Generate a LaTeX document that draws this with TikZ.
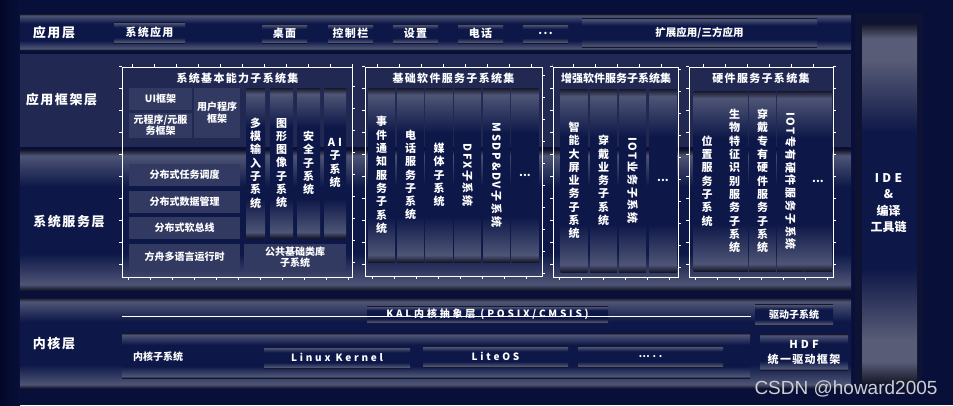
\documentclass[tikz,border=0pt]{standalone}
\usepackage{fontspec}
\setmainfont{Noto Sans CJK SC}
\newfontfamily\spacedfont{Noto Sans CJK SC}[LetterSpace=12]
\newfontfamily\widefont{Noto Sans CJK SC}[LetterSpace=28]
\newfontfamily\turnfont{Noto Sans CJK SC}[LetterSpace=16]
\newfontfamily\markfont{Liberation Sans}
\usetikzlibrary{positioning}

\definecolor{bgnavy}{RGB}{8,16,58}
\definecolor{edgenavy}{RGB}{3,8,40}
\definecolor{bandflat}{RGB}{33,41,83}
\definecolor{barlite}{RGB}{78,85,118}
\definecolor{barmid}{RGB}{14,24,72}
\definecolor{baredge}{RGB}{22,24,42}
\definecolor{flatblue}{RGB}{50,58,98}
\definecolor{idecol}{RGB}{14,19,52}
\definecolor{idegray}{RGB}{88,92,118}
\definecolor{markgray}{RGB}{205,205,210}

\pgfdeclareverticalshading{barshade}{100bp}{color(0bp)=(baredge); color(25bp)=(baredge); color(27bp)=(barlite); color(38bp)=(barmid); color(62bp)=(barmid); color(73bp)=(barlite); color(75bp)=(baredge); color(100bp)=(baredge)}
\pgfdeclareverticalshading{ideshade}{100bp}{color(0bp)=(baredge); color(25bp)=(baredge); color(28bp)=(idegray); color(31bp)=(idegray); color(41bp)=(barmid); color(60bp)=(barmid); color(70bp)=(idegray); color(73bp)=(idegray); color(75bp)=(baredge); color(100bp)=(baredge)}

\tikzset{
	layertext/.style = {text = white, font = \spacedfont\bfseries\fontsize{13}{15}\selectfont},
	titletext/.style = {text = white, font = \spacedfont\bfseries\fontsize{11}{13}\selectfont},
	barbox/.style = {shade, shading = barshade, text = white, inner sep = 0pt, align = center},
	appbox/.style = {barbox, font = \spacedfont\bfseries\fontsize{11}{13}\selectfont, minimum height = 19pt, minimum width = 45pt},
	flatbox/.style = {fill = flatblue, text = white, inner sep = 0pt, align = center, font = \bfseries\fontsize{10}{11}\selectfont},
	colbox/.style = {barbox, minimum width = 27pt, font = \bfseries\fontsize{11}{13.3}\selectfont},
	turntext/.style = {text = white, rotate = -90, font = \turnfont\bfseries\fontsize{11}{13}\selectfont},
	kernbox/.style = {barbox, minimum width = 145pt, minimum height = 21pt, font = \widefont\bfseries\fontsize{10}{12}\selectfont},
	framebox/.style = {draw = white, line width = 1pt},
	frameticks/.style = {draw = white, line width = 3pt, dash pattern = on 1pt off 21pt},
}

\begin{document}
\begin{tikzpicture}[x = 1pt, y = -1pt]
	\useasboundingbox (0, 0) rectangle (953, 405);
	\fill[bgnavy] (0, 0) rectangle (953, 405);
	\shade[left color = edgenavy, right color = bgnavy] (0, 0) rectangle (20, 405);
	
	% layer bands
	\shade[shading = barshade] (20, 14) rectangle (851, 50);
	\fill[bandflat] (20, 54) rectangle (851, 147);
	\shade[shading = barshade] (20, 150) rectangle (851, 290);
	\shade[shading = barshade] (20, 298) rectangle (851, 388);
	
	% IDE column
	\fill[idecol] (855, 13) rectangle (922, 393);
	\shade[shading = ideshade] (862, 24) rectangle (917, 383);
	\node[text = white, align = center, font = \bfseries\fontsize{12}{16.3}\selectfont] (ide) at (888.5, 203) {{\widefont IDE}\\\&\\编译\\工具链};
	
	\node[layertext] (lapp) at (54, 32.5) {应用层};
	\node[layertext] (lfw) at (61.5, 100) {应用框架层};
	\node[layertext] (lsvc) at (69, 222) {系统服务层};
	\node[layertext] (lkern) at (54, 344) {内核层};
	
	% application layer
	\node[appbox, minimum width = 71pt, minimum height = 21pt] (sysapp) at (149.5, 32.5) {系统应用};
	\node[appbox] (desktop) at (284.5, 33.5) {桌面};
	\node[appbox] (ctrlbar) at (350.5, 33.5) {控制栏};
	\node[appbox] (setting) at (415.5, 33.5) {设置};
	\node[appbox] (phone) at (480.5, 33.5) {电话};
	\node[appbox] (moreapp) at (545.5, 33.5) {...};
	\node[appbox, minimum width = 235pt, minimum height = 29pt, font = \bfseries\fontsize{10.5}{12}\selectfont] (extapp) at (699.5, 32.5) {扩展应用/三方应用};
	
	% frames
	\draw[framebox] (122, 67) rectangle (352, 277);
	\draw[frameticks] (120.5, 65.5) rectangle (353.5, 278.5);
	\draw[framebox] (365, 67) rectangle (542, 276);
	\draw[frameticks] (363.5, 65.5) rectangle (543.5, 277.5);
	\draw[framebox] (553, 67) rectangle (678, 277);
	\draw[frameticks] (551.5, 65.5) rectangle (679.5, 278.5);
	\draw[framebox] (689, 67) rectangle (833, 277);
	\draw[frameticks] (687.5, 65.5) rectangle (834.5, 278.5);
	
	\node[titletext] (f1title) at (237.5, 78) {系统基本能力子系统集};
	\node[titletext] (f2title) at (453.5, 78) {基础软件服务子系统集};
	\node[titletext, font = \bfseries\fontsize{11}{13}\selectfont] (f3title) at (616, 78) {增强软件服务子系统集};
	\node[titletext] (f4title) at (761, 78) {硬件服务子系统集};
	
	% system basic capability set
	\node[flatbox, minimum width = 63pt, minimum height = 22pt] (uifw) at (160.5, 99) {UI框架};
	\node[flatbox, minimum width = 63pt, minimum height = 25pt] (metafw) at (160.5, 125.5) {元程序/元服\\务框架};
	\node[flatbox, minimum width = 46pt, minimum height = 50pt, font = \bfseries\fontsize{10}{12}\selectfont] (userfw) at (217, 113) {用户程序\\框架};
	\node[colbox, minimum width = 19pt, minimum height = 150pt] (mmi) at (255.5, 163) {多\\模\\输\\入\\子\\系\\统};
	\node[colbox, minimum width = 23pt, minimum height = 150pt] (graphic) at (281.5, 163) {图\\形\\图\\像\\子\\系\\统};
	\node[colbox, minimum width = 23pt, minimum height = 150pt] (security) at (308.5, 163) {安\\全\\子\\系\\统};
	\node[colbox, minimum width = 22pt, minimum height = 150pt] (aisub) at (335, 163) {{\widefont AI}\\子\\系\\统};
	\node[flatbox, minimum width = 111pt, minimum height = 22pt] (dsched) at (184.5, 175) {分布式任务调度};
	\node[flatbox, minimum width = 111pt, minimum height = 22pt] (ddata) at (184.5, 202) {分布式数据管理};
	\node[flatbox, minimum width = 111pt, minimum height = 22pt] (dbus) at (184.5, 228) {分布式软总线};
	\node[flatbox, minimum width = 111pt, minimum height = 27pt] (arkrt) at (184.5, 257) {方舟多语言运行时};
	\node[flatbox, minimum width = 102pt, minimum height = 27pt] (baselib) at (295, 257) {公共基础类库\\子系统};
	
	% basic software service set
	\node[colbox, minimum height = 174pt] (event) at (381.5, 175) {事\\件\\通\\知\\服\\务\\子\\系\\统};
	\node[colbox, minimum height = 174pt] (telsub) at (410.5, 175) {电\\话\\服\\务\\子\\系\\统};
	\node[colbox, minimum height = 174pt] (media) at (439, 175) {媒\\体\\子\\系\\统};
	\node[colbox, minimum height = 174pt] (dfxcol) at (467.5, 175) {};
	\node[turntext] (dfx) at (dfxcol) {DFX子系统};
	\node[colbox, minimum height = 174pt] (msdpcol) at (496.5, 175) {};
	\node[turntext] (msdp) at (msdpcol) {MSDP\&DV子系统};
	\node[colbox, minimum height = 174pt] (morebase) at (525, 175) {...};
	
	% enhanced software service set
	\node[colbox, minimum height = 183pt] (bigscreen) at (574, 180.5) {智\\能\\大\\屏\\业\\务\\子\\系\\统};
	\node[colbox, minimum height = 183pt] (wearable) at (603.5, 180.5) {穿\\戴\\业\\务\\子\\系\\统};
	\node[colbox, minimum height = 183pt] (iotcol) at (632.5, 180.5) {};
	\node[turntext] (iotbiz) at (iotcol) {IOT业务子系统};
	\node[colbox, minimum height = 183pt] (moreplus) at (663, 180.5) {...};
	
	% hardware service set
	\node[colbox, minimum height = 180pt] (locate) at (707, 181) {位\\置\\服\\务\\子\\系\\统};
	\node[colbox, minimum height = 180pt] (biometric) at (734.5, 181) {生\\物\\特\\征\\识\\别\\服\\务\\子\\系\\统};
	\node[colbox, minimum height = 180pt] (wearhw) at (762.5, 181) {穿\\戴\\专\\有\\硬\\件\\服\\务\\子\\系\\统};
	\node[colbox, minimum height = 180pt] (iothwcol) at (790.5, 181) {};
	\node[turntext] (iothw) at (iothwcol) {IOT专有硬件服务子系统};
	\node[colbox, minimum height = 180pt] (morehw) at (818, 181) {...};
	
	% kernel layer
	\shade[shading = barshade] (122, 333) rectangle (750, 378);
	\node[kernbox, minimum width = 241pt, minimum height = 17pt] (kal) at (487.5, 314.5) {KAL内核抽象层 (POSIX/CMSIS)};
	\coordinate (kalL) at (122, 316);
	\coordinate (kalR) at (751, 316);
	\draw[white, line width = 0.8pt] (kalL) -- (kalR);
	\node[barbox, minimum width = 78pt, minimum height = 21pt, font = \bfseries\fontsize{10}{12}\selectfont] (drvsub) at (794, 314.5) {驱动子系统};
	\node[text = white, font = \bfseries\fontsize{10}{12}\selectfont] (kernsub) at (158, 357) {内核子系统};
	\node[kernbox, minimum width = 146pt] (linux) at (337, 357.5) {Linux Kernel};
	\node[kernbox] (liteos) at (495.5, 356.5) {LiteOS};
	\node[kernbox] (morekern) at (650.5, 356.5) {…..};
	\node[barbox, minimum width = 88pt, minimum height = 36pt, font = \bfseries\fontsize{11}{15}\selectfont] (hdf) at (804, 352) {{\widefont HDF}\\{\spacedfont 统一驱动框架}};
	
	\node[anchor = base, text = markgray, font = \markfont\fontsize{19}{21}\selectfont] (mark) at (846, 394) {CSDN @howard2005};
\end{tikzpicture}
\end{document}
